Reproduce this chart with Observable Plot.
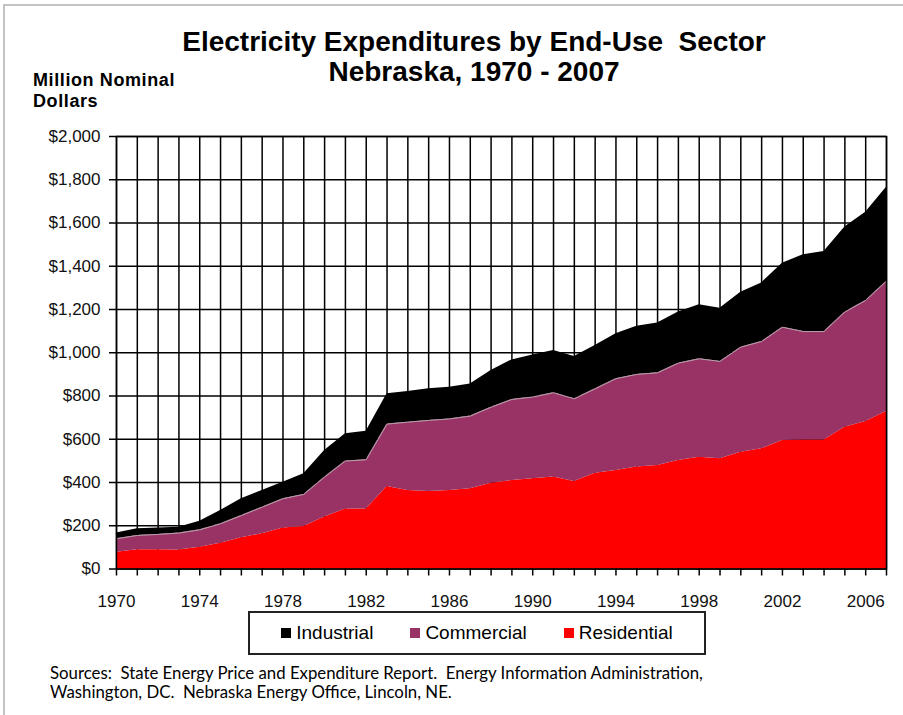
<!DOCTYPE html>
<html><head><meta charset="utf-8">
<script src="https://cdn.jsdelivr.net/npm/d3@7"></script>
<script src="https://cdn.jsdelivr.net/npm/@observablehq/plot@0.6"></script>
<style>
body{margin:0;background:#fff;}
#wrap{position:relative;width:903px;height:715px;overflow:hidden;font-family:"Liberation Sans",Arial,sans-serif;color:#000;}
#border{position:absolute;z-index:5;left:3px;top:4px;width:960px;height:760px;border-left:2px solid #c4c4c4;border-top:2px solid #c4c4c4;pointer-events:none;}
#header{position:relative;height:115px;}
.title{position:absolute;left:0;width:948px;text-align:center;font-weight:bold;font-size:28px;line-height:28px;white-space:pre;}
.ylab{position:absolute;left:33px;top:70px;font-weight:bold;font-size:18px;line-height:21px;letter-spacing:0.6px;}
#chart{position:relative;height:497px;}
#legend{position:absolute;left:248px;top:611px;width:454px;height:40px;border:2px solid #222;display:flex;align-items:center;justify-content:center;gap:37px;font-size:19px;}
#legend .it{display:flex;align-items:center;}
#legend .sw{width:10px;height:10px;margin-right:5px;}
#caption{position:absolute;left:50px;top:664px;font-family:Lato,"Open Sans",sans-serif;font-size:16.8px;line-height:18.5px;white-space:pre;}
</style></head>
<body>
<div id="wrap">
  <div id="border"></div>
  <div id="header">
    <div class="title" style="top:28px">Electricity Expenditures by End-Use  Sector</div>
    <div class="title" style="top:58px">Nebraska, 1970 - 2007</div>
    <div class="ylab">Million Nominal<br>Dollars</div>
  </div>
  <div id="chart"></div>
  <div id="legend"></div>
  <div id="caption">Sources:  State Energy Price and Expenditure Report.  Energy Information Administration,
Washington, DC.  Nebraska Energy Office, Lincoln, NE.</div>
</div>
<script>
const years = [1970,1971,1972,1973,1974,1975,1976,1977,1978,1979,1980,1981,1982,1983,1984,1985,1986,1987,1988,1989,1990,1991,1992,1993,1994,1995,1996,1997,1998,1999,2000,2001,2002,2003,2004,2005,2006,2007];
const residential = [78,89,89,88,101,119,144,163,190,197,240,278,278,381,363,358,363,371,397,409,417,425,405,443,455,472,479,502,517,510,540,556,594,597,597,656,682,728];
const commercial = [62,66,71,78,80,90,103,123,135,148,185,221,227,289,316,329,331,336,351,375,378,390,382,390,425,428,428,450,455,450,486,496,524,501,501,532,560,603];
const industrial = [26,31,30,27,40,62,78,77,76,95,123,126,132,140,142,146,147,149,170,183,195,195,196,201,208,222,230,236,250,246,254,271,296,355,370,393,408,434];
const stackOrder = ["Residential","Commercial","Industrial"];
const legendOrder = ["Industrial","Commercial","Residential"];
const colors = {Residential:"#ff0000", Commercial:"#993366", Industrial:"#000000"};
const yTicks = [0,200,400,600,800,1000,1200,1400,1600,1800,2000];
const xLabelYears = [1970,1974,1978,1982,1986,1990,1994,1998,2002,2006];

const series = {Residential: residential, Commercial: commercial, Industrial: industrial};
const data = [];
for (const s of stackOrder) years.forEach((y,i) => data.push({year:y, sector:s, value:series[s][i]}));
const resCom = years.map((y,i) => ({year:y, top: residential[i] + commercial[i]}));

const fmtY = d => "$" + d3.format(",")(d);

const chart = Plot.plot({
  width: 903, height: 497,
  marginLeft: 116, marginRight: 17, marginTop: 21, marginBottom: 43.5,
  style: {fontFamily: '"Liberation Sans", Arial, sans-serif', fontSize: "17px", color: "#111", background: "#fff"},
  x: {domain: [1970, 2007]},
  y: {domain: [0, 2000]},
  color: {domain: stackOrder, range: stackOrder.map(s => colors[s])},
  marks: [
    Plot.ruleX(years, {stroke: "#000", strokeWidth: 1.5}),
    Plot.ruleY(yTicks, {stroke: "#000", strokeWidth: 1.5}),
    Plot.areaY(data, {x: "year", y: "value", z: "sector", fill: "sector", curve: "linear"}),
    Plot.lineY(resCom, {x: "year", y: "top", stroke: "#b9a0ad", strokeWidth: 1}),
    Plot.frame({stroke: "#000", strokeWidth: 1.5}),
    Plot.axisX({ticks: years, tickSize: 7, tickPadding: 19, stroke: "#000", strokeWidth: 1.5,
      tickFormat: d => xLabelYears.includes(d) ? String(d) : "", label: null}),
    Plot.axisY({ticks: yTicks, tickSize: 7, tickPadding: 9, stroke: "#000", strokeWidth: 1.5,
      tickFormat: fmtY, label: null, style: {letterSpacing: "1.2px"}})
  ]
});
document.getElementById("chart").appendChild(chart);

const leg = document.getElementById("legend");
for (const s of legendOrder) {
  const it = document.createElement("div"); it.className = "it";
  const sw = document.createElement("div"); sw.className = "sw"; sw.style.background = colors[s];
  const tx = document.createElement("span"); tx.textContent = s;
  it.appendChild(sw); it.appendChild(tx); leg.appendChild(it);
}
</script>
</body></html>
